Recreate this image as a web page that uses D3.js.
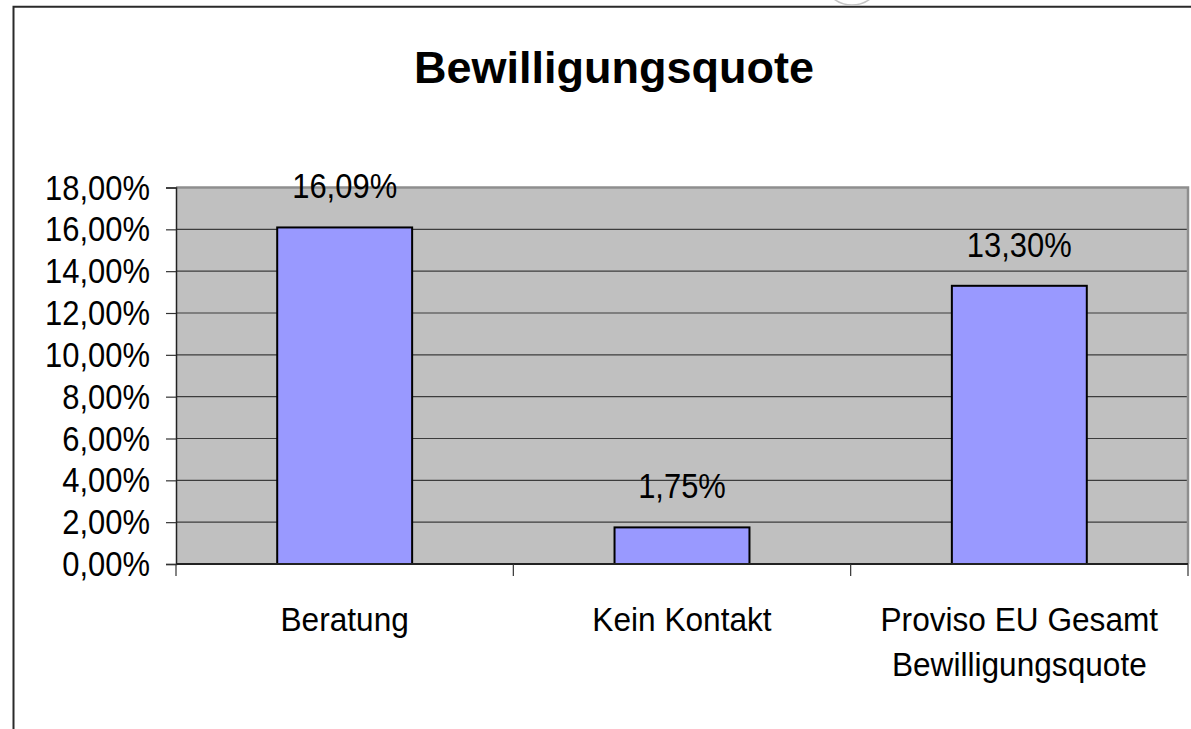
<!DOCTYPE html>
<html>
<head>
<meta charset="utf-8">
<script src="https://cdn.jsdelivr.net/npm/d3@7"></script>
<style>
  html, body { margin: 0; padding: 0; background: #fff; }
  svg { display: block; }
  text { font-family: "Liberation Sans", Arial, sans-serif; fill: #000; }
</style>
</head>
<body>
<svg id="chart" width="1191" height="729"></svg>
<script>
// ---- data ----
const title = "Bewilligungsquote";
const categories = ["Beratung", "Kein Kontakt", "Proviso EU Gesamt\nBewilligungsquote"];
const values = [0.1609, 0.0175, 0.1330];
const yTicks = [0, 0.02, 0.04, 0.06, 0.08, 0.10, 0.12, 0.14, 0.16, 0.18];

// ---- layout ----
const W = 1191, H = 729;
const plot = { left: 176, right: 1188, top: 187.5, bottom: 564 };

const de = d3.formatLocale({ decimal: ",", thousands: ".", grouping: [3], currency: ["", " €"] });
const pct = de.format(".2%");

const svg = d3.select("#chart");

// outer chart frame (left + top edges visible)
svg.append("path")
  .attr("d", `M13.5,${H} L13.5,6.7 L${W},6.7`)
  .attr("fill", "none").attr("stroke", "#2a2a2a").attr("stroke-width", 2);

// faint decorative arc at the top
svg.append("circle")
  .attr("cx", 852).attr("cy", -25).attr("r", 30)
  .attr("fill", "none").attr("stroke", "#c4c4c4").attr("stroke-width", 1.5);

// title
svg.append("text")
  .attr("x", 614).attr("y", 83)
  .attr("text-anchor", "middle")
  .attr("font-size", 45).attr("font-weight", "bold")
  .text(title);

const x = d3.scaleBand()
  .domain(categories)
  .range([plot.left, plot.right])
  .paddingInner(0.6)
  .paddingOuter(0.3);

const y = d3.scaleLinear()
  .domain([0, 0.18])
  .range([plot.bottom, plot.top]);

// plot background
svg.append("rect")
  .attr("x", plot.left).attr("y", y(0.18))
  .attr("width", plot.right - plot.left).attr("height", y(0) - y(0.18))
  .attr("fill", "#c0c0c0");

// gridlines
svg.append("g")
  .selectAll("line")
  .data(yTicks.filter(t => t > 0 && t < 0.18))
  .join("line")
  .attr("x1", plot.left).attr("x2", plot.right)
  .attr("y1", d => y(d)).attr("y2", d => y(d))
  .attr("stroke", "#3c3c3c").attr("stroke-width", 1.2);

// plot frame top + right (gray)
svg.append("path")
  .attr("d", `M${plot.left},${y(0.18)} L${plot.right},${y(0.18)} L${plot.right},${y(0)}`)
  .attr("fill", "none").attr("stroke", "#8e8e8e").attr("stroke-width", 2.5);

// bars
svg.append("g")
  .selectAll("rect")
  .data(values)
  .join("rect")
  .attr("x", (d, i) => x(categories[i]))
  .attr("y", d => y(d))
  .attr("width", x.bandwidth())
  .attr("height", d => y(0) - y(d))
  .attr("fill", "#9999ff")
  .attr("stroke", "#000").attr("stroke-width", 2);

// y axis
const yAxis = svg.append("g")
  .attr("transform", `translate(${plot.left},0)`)
  .call(d3.axisLeft(y).tickValues(yTicks).tickSize(10).tickPadding(0).tickFormat(pct));
yAxis.select(".domain").attr("stroke", "#222").attr("stroke-width", 1.5);
yAxis.selectAll(".tick line").attr("stroke", "#333").attr("stroke-width", 1.2);
yAxis.selectAll(".tick text")
  .attr("font-size", 36)
  .attr("font-family", "Liberation Sans, Arial, sans-serif")
  .attr("fill", "#000")
  .attr("x", -26 / 0.86)
  .attr("dy", "0.32em")
  .attr("transform", "scale(0.86,1)");

// x axis baseline + category separator ticks
const step = x.step();
const x0 = x.range()[0];
const sepTicks = d3.range(categories.length + 1).map(i => x0 + i * step);
svg.append("line")
  .attr("x1", plot.left).attr("x2", plot.right)
  .attr("y1", y(0)).attr("y2", y(0))
  .attr("stroke", "#222").attr("stroke-width", 1.8);
svg.append("g")
  .selectAll("line")
  .data(sepTicks)
  .join("line")
  .attr("x1", d => d).attr("x2", d => d)
  .attr("y1", y(0)).attr("y2", y(0) + 12)
  .attr("stroke", "#333").attr("stroke-width", 1.2);

// category labels
const catG = svg.append("g");
categories.forEach((c, i) => {
  const cx = x(c) + x.bandwidth() / 2;
  const t = catG.append("text")
    .attr("transform", `translate(${cx},631) scale(0.93,1)`)
    .attr("text-anchor", "middle")
    .attr("font-size", 34);
  c.split("\n").forEach((line, j) => {
    t.append("tspan").attr("x", 0).attr("y", j * 45).text(line);
  });
});

// data labels
svg.append("g")
  .selectAll("text")
  .data(values)
  .join("text")
  .attr("transform", (d, i) => `translate(${x(categories[i]) + x.bandwidth() / 2},${y(d) - 29}) scale(0.86,1)`)
  .attr("text-anchor", "middle")
  .attr("font-size", 36)
  .text(d => pct(d));
</script>
</body>
</html>
